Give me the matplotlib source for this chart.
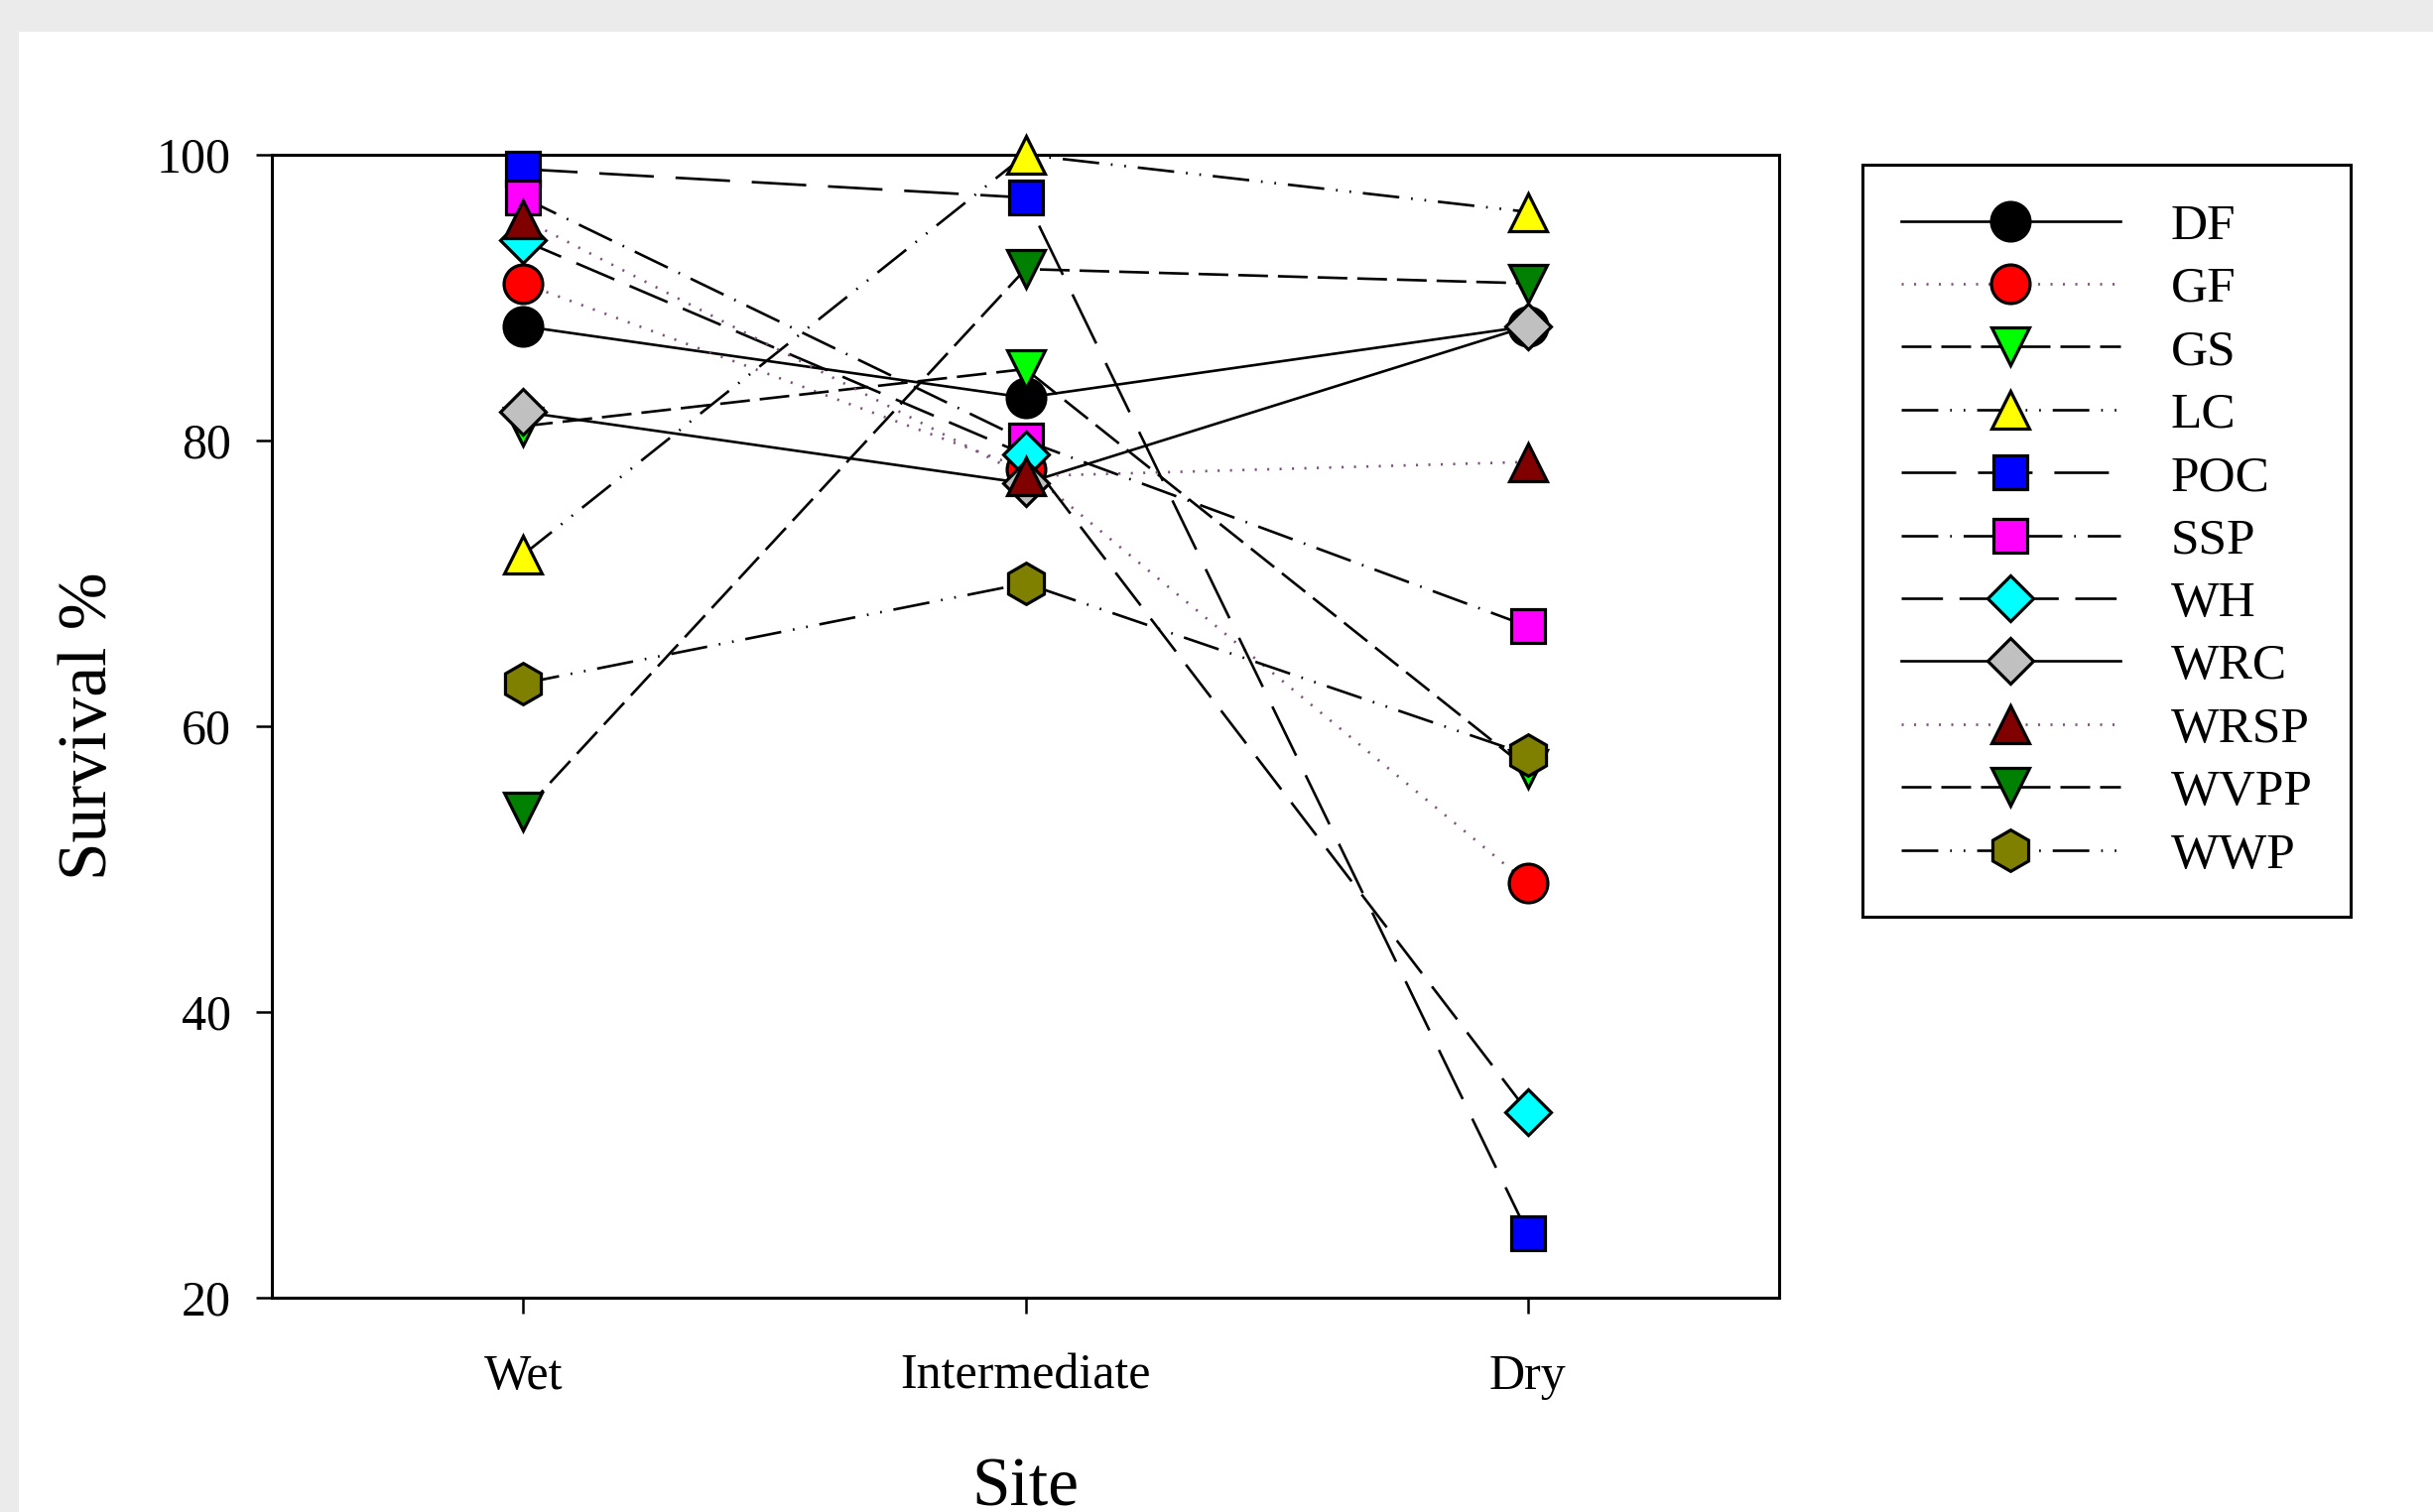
import matplotlib
matplotlib.use('Agg')
import matplotlib.pyplot as plt
from matplotlib.lines import Line2D
from matplotlib.patches import Rectangle

plt.rcParams['font.family'] = ['Liberation Serif', 'DejaVu Serif']
plt.rcParams['lines.scale_dashes'] = False

# data
sites = ['Wet', 'Intermediate', 'Dry']
species = ['DF', 'GF', 'GS', 'LC', 'POC', 'SSP', 'WH', 'WRC', 'WRSP', 'WVPP', 'WWP']
DF = [88, 83, 88]
GF = [91, 78, 49]
GS = [81, 85, 57]
LC = [72, 100, 96]
POC = [99, 97, 24.5]
SSP = [97, 80, 67]
WH = [94, 79, 33]
WRC = [82, 77, 88]
WRSP = [95.5, 77.5, 78.5]
WVPP = [54, 92, 91]
WWP = [63, 70, 58]
values = [DF, GF, GS, LC, POC, SSP, WH, WRC, WRSP, WVPP, WWP]

# line styles (points)
dotted = (0, (1.5, 7.5))
dashed = (0, (21.6, 7.2))
dashdotdot = (0, (26.6, 8.6, 1.2, 8.6, 1.2, 8.6))
longdash = (0, (39.6, 15.8))
dashdot = (0, (26.6, 8.6, 1.2, 8.6))
meddash = (0, (30.0, 12.0))

styles = [
    # marker, size, face, linestyle, line colour
    ('o', 28, 'black',   '-',        'black'),
    ('o', 28, '#ff0000', dotted,     '#7a557a'),
    ('v', 27, '#00ff00', dashed,     'black'),
    ('^', 27, '#ffff00', dashdotdot, 'black'),
    ('s', 25, '#0000ff', longdash,   'black'),
    ('s', 25, '#ff00ff', dashdot,    'black'),
    ('D', 23, '#00ffff', meddash,    'black'),
    ('D', 23, '#c0c0c0', '-',        'black'),
    ('^', 27, '#800000', dotted,     '#7a557a'),
    ('v', 27, '#008000', dashed,     'black'),
    ('h', 30, '#808000', dashdotdot, 'black'),
]

fig = plt.figure(figsize=(24.52, 15.24), dpi=100)
fig.patch.set_facecolor('#ebebeb')
fig.add_artist(Rectangle((19 / 2452, 0), 1, 1 - 32 / 1524, transform=fig.transFigure,
                         facecolor='white', edgecolor='none', zorder=-1))

ax = fig.add_axes([274 / 2452, 1 - 1308 / 1524, 1519 / 2452, 1152 / 1524])

x = [1, 2, 3]
handles = []
for i, (name, vals) in enumerate(zip(species, values)):
    m, ms, fc, ls, lc = styles[i]
    ax.plot(x, vals, color=lc, linestyle=ls, linewidth=1.9, zorder=2)
    ax.plot(x, vals, linestyle='none', marker=m, markersize=ms,
            markerfacecolor=fc, markeredgecolor='black', markeredgewidth=2.3,
            zorder=3 + i * 0.01, clip_on=False)
    handles.append(Line2D([], [], color=lc, linestyle=ls, linewidth=1.9, marker=m,
                          markersize=ms, markerfacecolor=fc, markeredgecolor='black',
                          markeredgewidth=2.3))

ax.set_xlim(0.5, 3.5)
ax.set_ylim(20, 100)
ax.set_xticks(x)
ax.set_xticklabels(sites)
ax.set_yticks([20, 40, 60, 80, 100])

for s in ax.spines.values():
    s.set_linewidth(2.2)
ax.tick_params(axis='both', direction='out', length=11.5, width=1.8,
               labelsize=36, top=False, right=False)
ax.tick_params(axis='x', pad=29)
ax.tick_params(axis='y', pad=18)

ax.set_xlabel('Site', fontsize=50)
ax.set_ylabel('Survival %', fontsize=50)
ax.xaxis.set_label_coords(0.5, -0.140)
ax.yaxis.set_label_coords(-0.100, 0.5)

leg = fig.legend(handles, species, loc='upper left',
                 bbox_to_anchor=(1877 / 2452, 1 - 166 / 1524),
                 bbox_transform=fig.transFigure, borderaxespad=0,
                 fontsize=37, handlelength=4.3, handletextpad=1.0,
                 labelspacing=0.32, borderpad=0.75, fancybox=False,
                 framealpha=1, edgecolor='black')
leg.get_frame().set_linewidth(2.2)

plt.savefig('out.png', dpi=100)
